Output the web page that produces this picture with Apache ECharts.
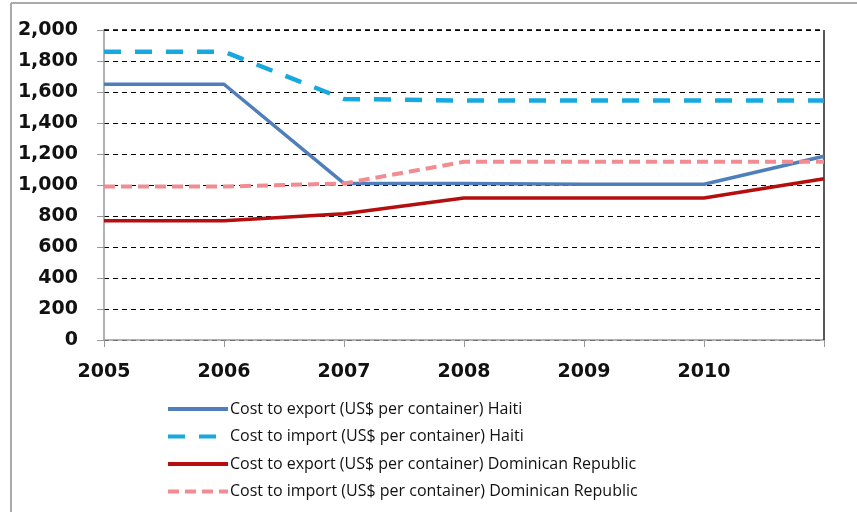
<!DOCTYPE html>
<html>
<head>
<meta charset="utf-8">
<script src="https://cdn.jsdelivr.net/npm/echarts@6/dist/echarts.min.js"></script>
<style>html,body{margin:0;padding:0;background:#fff}#c{width:857px;height:512px}</style>
</head>
<body>
<div id="c"></div>
<script>
var years = ['2005','2006','2007','2008','2009','2010','2011'];
var yTicks = [0,200,400,600,800,1000,1200,1400,1600,1800,2000];
var seriesNames = [
  'Cost to export (US$ per container) Haiti',
  'Cost to import (US$ per container) Haiti',
  'Cost to export (US$ per container) Dominican Republic',
  'Cost to import (US$ per container) Dominican Republic'
];
var haitiExport = [1650, 1650, 1010, 1010, 1005, 1005, 1185];
var haitiImport = [1860, 1860, 1555, 1545, 1545, 1545, 1545];
var drExport = [770, 770, 815, 916, 916, 916, 1040];
var drImport = [990, 990, 1010, 1150, 1150, 1150, 1150];

var chart = echarts.init(document.getElementById('c'));
function mk(name, data, color, type, width) {
  return {
    name: name, type: 'line', data: data, symbol: 'none',
    lineStyle: {color: color, width: width, type: type},
    itemStyle: {color: color},
    z: 3
  };
}
chart.setOption({
  animation: false,
  backgroundColor: '#fff',
  grid: {left: 104, right: 33, top: 30, bottom: 172, containLabel: false},
  xAxis: {
    type: 'category', data: years, boundaryGap: false,
    axisLine: {lineStyle: {color: '#999', width: 1.5}},
    axisTick: {show: true, length: 7, inside: false, lineStyle: {color: '#999'}},
    axisLabel: {
      color: '#111', fontFamily: 'DejaVu Sans', fontWeight: 'bold', fontSize: 19, margin: 23,
      formatter: function (v) { return v === '2011' ? '' : v; }
    },
    splitLine: {show: false}
  },
  yAxis: {
    type: 'value', min: 0, max: 2000, interval: 200,
    axisLine: {show: true, lineStyle: {color: '#999', width: 1.5}},
    axisTick: {show: true, length: 7, lineStyle: {color: '#999'}},
    axisLabel: {
      color: '#111', fontFamily: 'DejaVu Sans', fontWeight: 'bold', fontSize: 19, margin: 26,
      formatter: function (v) { return v.toLocaleString('en-US'); }
    },
    splitLine: {show: true, lineStyle: {color: '#000', type: [5, 4], width: 1}}
  },
  legend: {
    orient: 'vertical', left: 161, top: 396,
    itemWidth: 60, itemHeight: 14, itemGap: 11.5,
    itemStyle: {opacity: 0},
    lineStyle: {width: 4},
    textStyle: {fontFamily: 'Open Sans', fontSize: 16, lineHeight: 14, color: '#111', padding: [0, 0, 0, -3]},
    data: seriesNames
  },
  series: [
    mk(seriesNames[0], haitiExport, '#4F7EBB', 'solid', 3.5),
    mk(seriesNames[1], haitiImport, '#17A9DE', [17, 14], 4.5),
    mk(seriesNames[2], drExport, '#B50E0E', 'solid', 3.5),
    mk(seriesNames[3], drImport, '#F28C93', [11, 6], 4)
  ],
  graphic: [
    {type: 'line', shape: {x1: 11, y1: 3, x2: 11, y2: 512}, style: {stroke: '#aaa', lineWidth: 2}},
    {type: 'line', shape: {x1: 11, y1: 3, x2: 857, y2: 3}, style: {stroke: '#aaa', lineWidth: 2}},
    {type: 'line', shape: {x1: 824, y1: 30, x2: 824, y2: 340}, style: {stroke: '#222', lineWidth: 1.5}, z: 2},
    {type: 'line', shape: {x1: 104, y1: 30, x2: 824, y2: 30}, style: {stroke: '#000', lineWidth: 1.5, lineDash: [5, 4]}, z: 2}
  ]
});
</script>
</body>
</html>
